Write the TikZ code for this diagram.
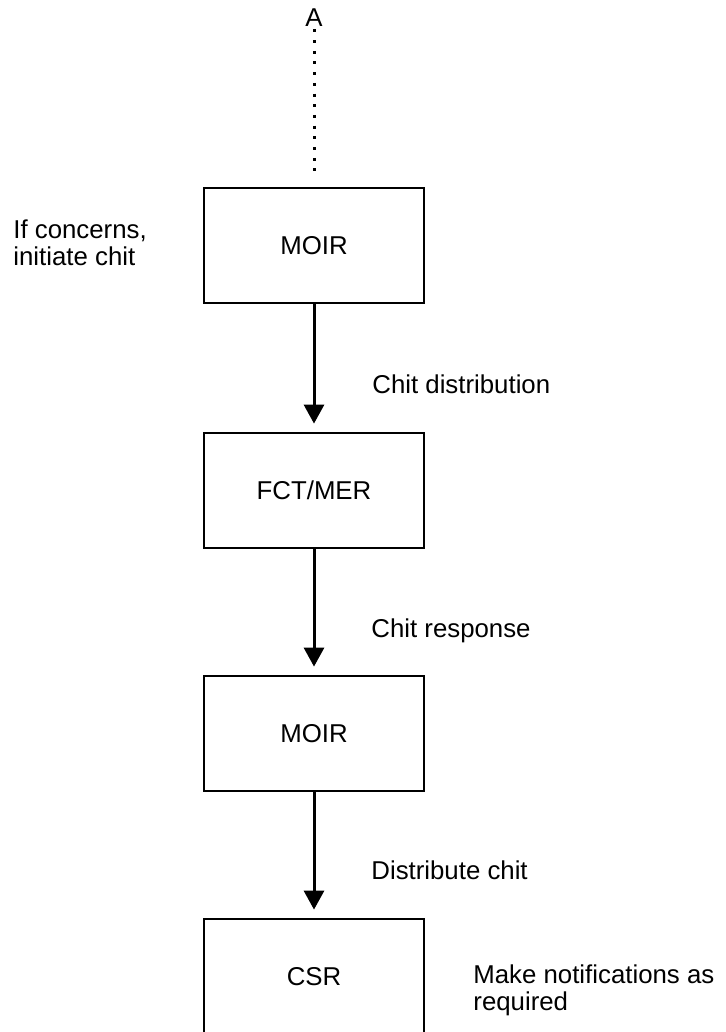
\documentclass[tikz,border=0pt]{standalone}
\usepackage{fontspec}
\setmainfont{Liberation Sans}
\usetikzlibrary{arrows.meta}
\begin{document}
\begin{tikzpicture}[x=0.5pt,y=-0.5pt,
  every node/.style={font=\fontsize{12.9}{13.5}\selectfont},
  stepbox/.style={draw,line width=1.4pt,minimum width=110pt,minimum height=57.5pt,inner sep=0pt},
  flow/.style={line width=1.5pt,-{Triangle[length=9.5pt,width=10pt]},shorten >=4pt},
  dots/.style={line width=1.5pt,dash pattern=on 1.5pt off 3.85pt},
  lbl/.style={anchor=base west,inner sep=0pt,align=left}]
\useasboundingbox (0,0) rectangle (725,1032);
\clip (0,0) rectangle (725,1032);
\node[anchor=base,inner sep=0pt] (A) at (314,27) {A};
\node[stepbox] (b1) at (314,245.5) {MOIR};
\node[stepbox] (b2) at (314,490.5) {FCT/MER};
\node[stepbox] (b3) at (314,733.5) {MOIR};
\node[stepbox] (b4) at (314,976.5) {CSR};
\draw[dots] ([yshift=-1pt]A.south) -- ([yshift=4pt]b1.north);
\draw[flow] (b1) -- (b2);
\draw[flow] (b2) -- (b3);
\draw[flow] (b3) -- (b4);
\node[lbl] (l1) at (13,265) {If concerns,\\initiate chit};
\node[lbl] (l2) at (372,393) {Chit distribution};
\node[lbl] (l3) at (371,637) {Chit response};
\node[lbl] (l4) at (371,879) {Distribute chit};
\node[lbl] (l5) at (473,1010) {Make notifications as\\required};
\end{tikzpicture}
\end{document}
